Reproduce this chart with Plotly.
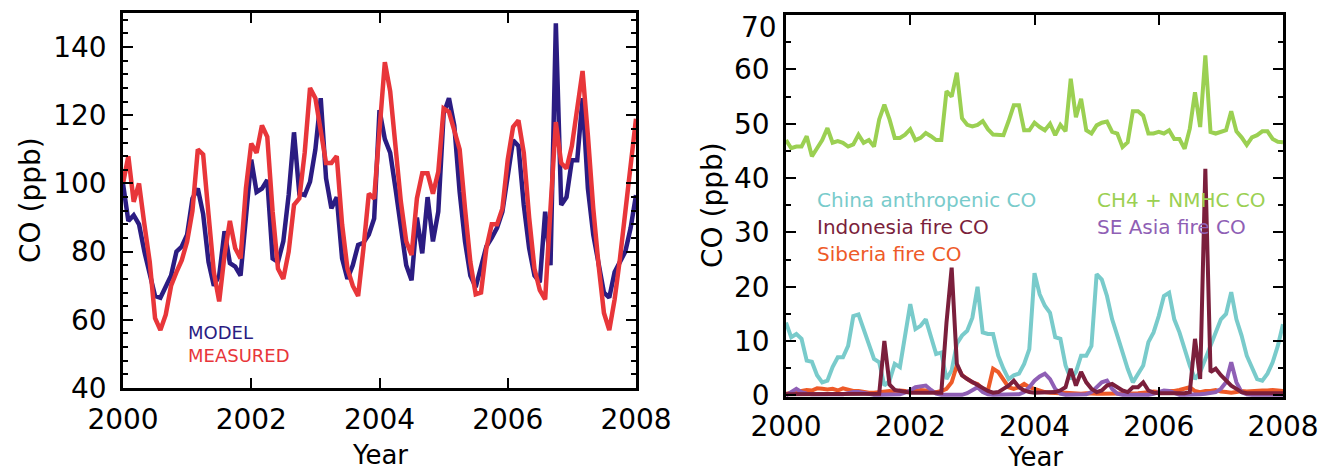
import plotly.graph_objects as go

# ---------------- data ----------------
years = [2000 + i / 12 for i in range(97)]

model = [100, 89, 90.7, 88, 80, 73, 67, 66.5, 70, 73,
         80, 81.5, 85, 95.6, 98.5, 91, 77, 70, 73, 86,
         76.6, 75.6, 73, 90.7, 107, 97.5, 98.5, 101, 78, 77,
         83, 96.6, 115, 97, 96.6, 100.5, 110, 125, 101.5, 92.7,
         96, 78, 72, 76, 82, 82.6, 85, 89.7, 121.5, 113,
         109, 98.5, 88, 76, 71.6, 90, 79.5, 96, 83, 91.7,
         120.5, 125, 117, 97.5, 83, 73, 69.6, 75, 81.5, 84,
         87, 91.7, 102.4, 112.7, 111, 93.7, 81, 73, 71, 91.7,
         76, 147, 93.7, 96, 106.8, 106.8, 125, 98.5, 85, 76,
         68, 66.5, 74, 77, 80, 87, 96.6]

measured = [100, 108, 94.6, 100, 88, 77, 60.5, 57, 61.5, 70,
            74, 77.5, 83, 92, 110, 108.5, 91, 74, 65.4, 79,
            89, 81, 78, 98.5, 111.7, 109, 117, 113.7, 91.7, 75,
            72, 80, 93.7, 95.6, 109, 128, 125, 116, 106, 106,
            108, 88, 75, 70, 67, 81, 97, 95.6, 116, 135.6,
            127, 110, 94.6, 83, 79, 95.6, 103, 103, 97, 103.4,
            122, 121, 116, 110, 92.7, 77, 67.5, 68, 81, 88,
            88, 92.7, 107, 116.6, 118.5, 109, 90, 75, 68.7, 66,
            92.7, 118, 106, 104.4, 111, 122, 133, 114, 92.7, 76,
            62, 57, 66, 78, 91.7, 107, 119]

ch4_nmhc = [47, 45.5, 45.8, 45.8, 47.7, 44, 45.5, 47, 49.2, 46.5,
            46.8, 46.5, 45.8, 46.2, 48, 46.5, 47, 45.8, 50.8, 53.5,
            50.8, 47.4, 47.4, 48, 49, 47, 47.4, 48.3, 47.7, 47,
            47, 56, 55, 59.4, 51, 49.8, 49.5, 49.8, 50.5, 49,
            48, 47.9, 47.9, 50.5, 53.4, 53.4, 48.8, 48.8, 50.2, 49.4,
            48.8, 50, 47.9, 49.8, 48.6, 58.3, 51.2, 54.6, 48.8, 48.2,
            49.7, 50.2, 50.4, 48.5, 48.2, 45.7, 46.6, 52.3, 52.3, 51.5,
            48.2, 48.2, 48.5, 48.2, 48.8, 47.2, 47.2, 45.4, 49.1, 55.8,
            49.4, 62.6, 48.5, 48.2, 48.6, 48.8, 52.3, 48.6, 47.5, 46.1,
            47.5, 47.9, 48.6, 48.6, 47.2, 46.7, 46.6]

china = [13.4, 10.7, 11.3, 10.4, 6.4, 6.2, 3.7, 2.4, 2.7, 5.2,
         7, 7, 9.1, 14.6, 14.9, 12.2, 9.1, 6.7, 6.1, 1.8,
         2.7, 5.8, 5.2, 11, 16.8, 12.2, 12.8, 14, 11, 7.6,
         7.9, 3, 4.6, 9.5, 11, 11.9, 14.3, 20, 11.6, 11.3,
         11.3, 7.3, 4.9, 3, 3.7, 4, 5.8, 8.5, 22.5, 18.6,
         16.5, 15.2, 10.7, 10.4, 5.5, 3, 4.3, 7.3, 7.3, 9.1,
         22.3, 21.3, 18.3, 14, 11, 7.9, 4.9, 2.4, 4, 5.5,
         9.8, 11.6, 14.6, 18.3, 18.9, 14, 11.6, 8.5, 5.5, 3,
         4.3, 6.7, 9.1, 11.6, 14, 15, 19, 14, 11, 7.3,
         4.9, 3, 2.7, 4, 6.1, 9.1, 13.1]

indonesia = [0.2, 0.2, 0.2, 0.2, 0.2, 0.2, 0.2, 0.2, 0.2, 0.2,
             0.2, 0.2, 0.2, 0.2, 0.2, 0.2, 0.2, 0.2, 0.3, 10,
             2, 1, 0.8, 0.6, 0.5, 0.5, 0.5, 0.5, 0.4, 0.4,
             0.5, 13.4, 23.5, 5.8, 3.7, 3, 2.4, 1.8, 1.2, 0.8,
             0.5, 0.6, 1.2, 1.8, 2.7, 1.5, 0.9, 0.6, 0.5, 0.5,
             0.5, 0.5, 0.6, 0.9, 1.5, 4.9, 1.8, 4.3, 2.4, 1.2,
             0.6, 0.9, 1.8, 2.1, 1.5, 0.9, 0.6, 1.5, 1.5, 2.4,
             0.9, 0.5, 0.4, 0.4, 0.4, 0.4, 0.4, 0.4, 0.6, 10.4,
             3, 41.7, 4.3, 4.9, 3.7, 2.7, 1.8, 1.2, 0.6, 0.4,
             0.4, 0.4, 0.4, 0.4, 0.4, 0.4, 0.4]

siberia = [0.3, 0.5, 0.6, 0.8, 1, 0.9, 1.3, 1.2, 1.1, 1.2,
           0.9, 1.3, 1, 0.8, 0.8, 0.6, 0.5, 0.5, 0.6, 0.8,
           0.8, 0.6, 0.9, 0.8, 0.6, 0.8, 1, 0.9, 0.8, 0.6,
           0.8, 1.2, 2.4, 5.5, 3.7, 3, 2.4, 2.1, 1.2, 0.9,
           4.9, 4.3, 3, 1.5, 1.2, 1.5, 2.1, 1.5, 1.2, 0.9,
           0.6, 0.5, 0.4, 0.4, 0.5, 0.4, 0.3, 0.3, 0.4, 0.3,
           0.3, 0.3, 0.3, 0.3, 0.4, 0.4, 0.3, 0.3, 0.4, 0.5,
           0.6, 0.7, 0.6, 0.6, 0.8, 0.8, 1.0, 1.2, 1.5, 0.8,
           0.6, 0.8, 0.8, 1, 0.7, 0.6, 0.5, 0.6, 0.8, 0.7,
           0.8, 0.8, 0.9, 0.9, 1.0, 0.9, 0.8]

se_asia = [0, 0.5, 1.2, 0.6, 0.3, 0.2, 0.2, 0.1, 0.1, 0.1,
           0.1, 0.2, 0.4, 0.6, 0.6, 0.4, 0.2, 0.1, 0.1, 0.1,
           0.1, 0.1, 0.2, 0.5, 0.9, 1.5, 1.6, 1.8, 1.0, 0.3,
           0.1, 0.1, 0.1, 0.1, 0.1, 0.4, 0.9, 1.5, 0.6, 0.2,
           0.1, 0.1, 0.1, 0.1, 0.1, 0.2, 0.6, 1.5, 2.7, 3.5,
           4.0, 3.0, 1.2, 0.3, 0.1, 0.1, 0.1, 0.1, 0.2, 0.6,
           1.5, 2.4, 2.7, 1.2, 0.3, 0.1, 0.1, 0.1, 0.1, 0.1,
           0.1, 0.3, 0.6, 0.9, 0.8, 0.4, 0.1, 0.1, 0.1, 0.1,
           0.2, 0.3, 0.4, 0.6, 1.2, 2.4, 6.1, 2.4, 0.6, 0.2,
           0.1, 0.1, 0.1, 0.1, 0.1, 0.1, 0.1]

x_ticks = [2000, 2002, 2004, 2006, 2008]
left_y_ticks = [40, 60, 80, 100, 120, 140]
right_y_ticks = [0, 10, 20, 30, 40, 50, 60, 70]
# the top label (70) is set a little below its tick, as in the original figure
right_y_text = ["0", "10", "20", "30", "40", "50", "60", ""]
right_y_top_label = "70"

# ---------------- style ----------------
OFF = 8                      # default page (body) margin of the html page
W, H = 1326 - OFF, 471 - OFF
FONT = "DejaVu Sans"
C_MODEL = "#2B1C82"
C_MEAS = "#E8363A"
C_GREEN = "#9BD052"
C_CYAN = "#79CBCB"
C_MAROON = "#7B1F3C"
C_ORANGE = "#EE5A28"
C_PURPLE = "#8F5FB5"


def px_x(p):
    return (p - OFF) / W


def px_y(p):
    return 1 - (p - OFF) / H


fig = go.Figure()

fig.add_trace(go.Scatter(x=years, y=model, mode="lines", line=dict(color=C_MODEL, width=4.5),
                         xaxis="x", yaxis="y", name="MODEL"))
fig.add_trace(go.Scatter(x=years, y=measured, mode="lines", line=dict(color=C_MEAS, width=4.5),
                         xaxis="x", yaxis="y", name="MEASURED"))

for series, col, nm in [(ch4_nmhc, C_GREEN, "CH4 + NMHC CO"),
                        (china, C_CYAN, "China anthropenic CO"),
                        (siberia, C_ORANGE, "Siberia fire CO"),
                        (se_asia, C_PURPLE, "SE Asia fire CO"),
                        (indonesia, C_MAROON, "Indonesia fire CO")]:
    fig.add_trace(go.Scatter(x=years, y=series, mode="lines", line=dict(color=col, width=4),
                             xaxis="x2", yaxis="y2", name=nm))

axis_common = dict(showline=True, linecolor="black", linewidth=2.5, mirror="allticks",
                   ticks="inside", ticklen=10, tickwidth=2, tickcolor="black",
                   showgrid=False, zeroline=False, automargin=False,
                   ticklabeloverflow="allow",
                   tickfont=dict(family=FONT, size=28, color="black"))

fig.update_layout(
    width=W, height=H,
    margin=dict(l=0, r=0, t=0, b=0, autoexpand=False),
    paper_bgcolor="white", plot_bgcolor="white",
    showlegend=False,
    xaxis=dict(axis_common, domain=[px_x(123), px_x(636)], range=[2000, 2008],
               tickvals=x_ticks, anchor="y", ticklabelstandoff=5),
    yaxis=dict(axis_common, domain=[px_y(388), px_y(13)], range=[40, 150],
               tickvals=left_y_ticks, anchor="x", ticklabelstandoff=8,
               minor=dict(ticks="inside", ticklen=5, tickwidth=2, tickcolor="black",
                          dtick=4, tick0=40)),
    xaxis2=dict(axis_common, domain=[px_x(786), px_x(1283)], range=[2000, 2008],
                tickvals=x_ticks, anchor="y2", ticklabelstandoff=3),
    yaxis2=dict(axis_common, domain=[px_y(397), px_y(15)], range=[-0.3, 70.02],
                tickvals=right_y_ticks, ticktext=right_y_text, anchor="x2",
                ticklabelstandoff=8,
                minor=dict(ticks="inside", ticklen=5, tickwidth=2, tickcolor="black",
                           dtick=5, tick0=0)),
)

ann = []


def label(text, x, y, size, color="black", angle=0, xanchor="center"):
    ann.append(dict(text=text, x=px_x(x), y=px_y(y), xref="paper", yref="paper",
                    showarrow=False, textangle=angle, xanchor=xanchor, yanchor="middle",
                    font=dict(family=FONT, size=size, color=color)))


label(right_y_top_label, 779, 27, 28, xanchor="right")
label("CO (ppb)", 30, 200, 28, angle=-90)
label("CO (ppb)", 713, 205, 28, angle=-90)
label("Year", 380, 455, 26)
label("Year", 1035, 457, 26)

label("MODEL", 186, 332, 18, C_MODEL, xanchor="left")
label("MEASURED", 186, 355, 18, C_MEAS, xanchor="left")

label("China anthropenic CO", 815, 200, 20, C_CYAN, xanchor="left")
label("Indonesia fire CO", 815, 227, 20, C_MAROON, xanchor="left")
label("Siberia fire CO", 815, 254, 20, C_ORANGE, xanchor="left")
label("CH4 + NMHC CO", 1095, 200, 20, C_GREEN, xanchor="left")
label("SE Asia fire CO", 1095, 227, 20, C_PURPLE, xanchor="left")

fig.update_layout(annotations=ann)

fig.write_html("out.html")
